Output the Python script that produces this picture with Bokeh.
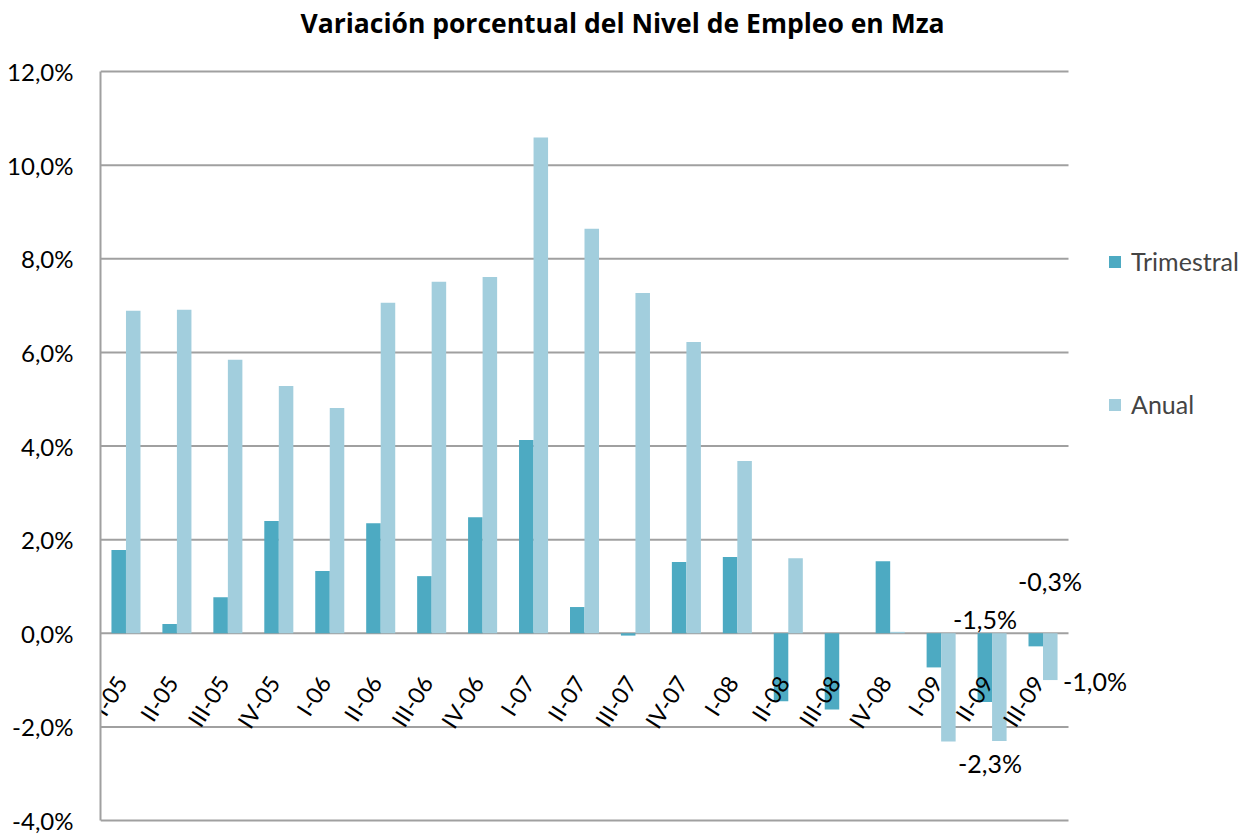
from math import pi
from bokeh.plotting import figure
from bokeh.models import (ColumnDataSource, Range1d, FixedTicker, Label,
                          CustomJSTickFormatter, Legend, LegendItem, LabelSet)
from bokeh.core.properties import value
from bokeh.embed import file_html
from bokeh.resources import INLINE

categories = ["I-05", "II-05", "III-05", "IV-05", "I-06", "II-06", "III-06", "IV-06",
              "I-07", "II-07", "III-07", "IV-07", "I-08", "II-08", "III-08", "IV-08",
              "I-09", "II-09", "III-09"]
trimestral = [1.78, 0.20, 0.77, 2.40, 1.33, 2.35, 1.22, 2.48,
              4.13, 0.56, -0.05, 1.52, 1.63, -1.45, -1.63, 1.54,
              -0.73, -1.47, -0.28]
anual = [6.89, 6.91, 5.84, 5.28, 4.81, 7.06, 7.51, 7.61,
         10.59, 8.64, 7.27, 6.22, 3.68, 1.60, 0.0, 0.03,
         -2.31, -2.30, -1.00]
y_ticks = [-4, -2, 0, 2, 4, 6, 8, 10, 12]
title_text = "Variación porcentual del Nivel de Empleo en Mza"

# data labels shown in the chart (category index, series value)
lab_idx = [18, 17, 17, 18]
lab_vals = [trimestral[18], trimestral[17], anual[17], anual[18]]
lab_text = [("%.1f%%" % v).replace(".", ",") for v in lab_vals]

FONT = "Lato"
TFONT = "Open Sans"
DARK = "#4DAAC2"
LIGHT = "#A2CEDD"
GRID = "#A0A0A0"

# layout (pixels inside the figure)
W, H = 1258, 835
LEFT = 100                # width of the y-axis panel
PLOT_TOP, PLOT_BOTTOM = 71, 820   # y pixel of 12% and -4%
n = len(categories)
CAT_PX = 968 / n          # pixel width of one category slot
FRAME_W = W - LEFT
ymin, ymax = y_ticks[0], y_ticks[-1]
PX_PER_UNIT = (PLOT_BOTTOM - PLOT_TOP) / (ymax - ymin)
xs = list(range(n))

p = figure(width=W, height=H, output_backend="svg", toolbar_location=None,
           x_axis_location=None,
           x_range=Range1d(-0.5, -0.5 + FRAME_W / CAT_PX),
           y_range=Range1d(ymin - (H - PLOT_BOTTOM) / PX_PER_UNIT, ymax + PLOT_TOP / PX_PER_UNIT),
           min_border_left=LEFT, min_border_right=0, min_border_top=0, min_border_bottom=0)

src = ColumnDataSource(dict(x=xs, cat=categories, zero=[0] * n))

# horizontal gridlines limited to the category area
p.segment(x0=[-0.5] * len(y_ticks), x1=[n - 0.5] * len(y_ticks), y0=y_ticks, y1=y_ticks,
          line_color=GRID, line_width=2, level="underlay")

bw = 0.285
r1 = p.vbar(x=[x - bw / 2 for x in xs], top=trimestral, width=bw,
            fill_color=DARK, line_color=None)
r2 = p.vbar(x=[x + bw / 2 for x in xs], top=anual, width=bw,
            fill_color=LIGHT, line_color=None)

# category labels along the zero line
p.text(x="x", y="zero", text="cat", source=src, angle=57 * pi / 180, text_align="right",
       text_baseline="middle", x_offset=-5, y_offset=45,
       text_font=value(FONT), text_font_size="23px", text_color="black")

lsrc = ColumnDataSource(dict(x=lab_idx, v=lab_vals, t=lab_text,
                             dx=[7, -7, -2, 52], dy=[65, 83, -22, -1]))
p.add_layout(LabelSet(x="x", y="v", text="t", source=lsrc, x_offset="dx", y_offset="dy",
                      text_align="center", text_baseline="middle",
                      text_font=value(FONT), text_font_size="25px", text_color="black"))

p.xgrid.visible = False
p.ygrid.visible = False
p.yaxis.bounds = (ymin, ymax)
p.yaxis.ticker = FixedTicker(ticks=y_ticks)
p.yaxis.formatter = CustomJSTickFormatter(code="return tick.toFixed(1).replace('.', ',') + '%';")
p.yaxis.major_label_text_font = FONT
p.yaxis.major_label_text_font_size = "24px"
p.yaxis.major_label_text_color = "black"
p.yaxis.major_label_standoff = 27
p.yaxis.major_tick_out = 0
p.yaxis.major_tick_in = 0
p.yaxis.major_tick_line_color = None
p.yaxis.minor_tick_line_color = None
p.yaxis.axis_line_color = GRID
p.yaxis.axis_line_width = 2
p.outline_line_color = None

p.add_layout(Label(x=522, y=H - 22, x_units="screen", y_units="screen", text=title_text,
                   text_align="center", text_baseline="middle", text_font=TFONT,
                   text_font_size="26.5px", text_font_style="bold", text_color="black"))

legend = Legend(items=[LegendItem(label="Trimestral", renderers=[r1]),
                       LegendItem(label="Anual", renderers=[r2])],
                location=(1007, 416), glyph_width=15, glyph_height=15, label_standoff=9,
                spacing=113, label_text_font=FONT, label_text_font_size="25px",
                border_line_color=None, background_fill_alpha=0, padding=10, margin=0)
p.add_layout(legend, "center")

open("out.html", "w").write(file_html(p, INLINE))
